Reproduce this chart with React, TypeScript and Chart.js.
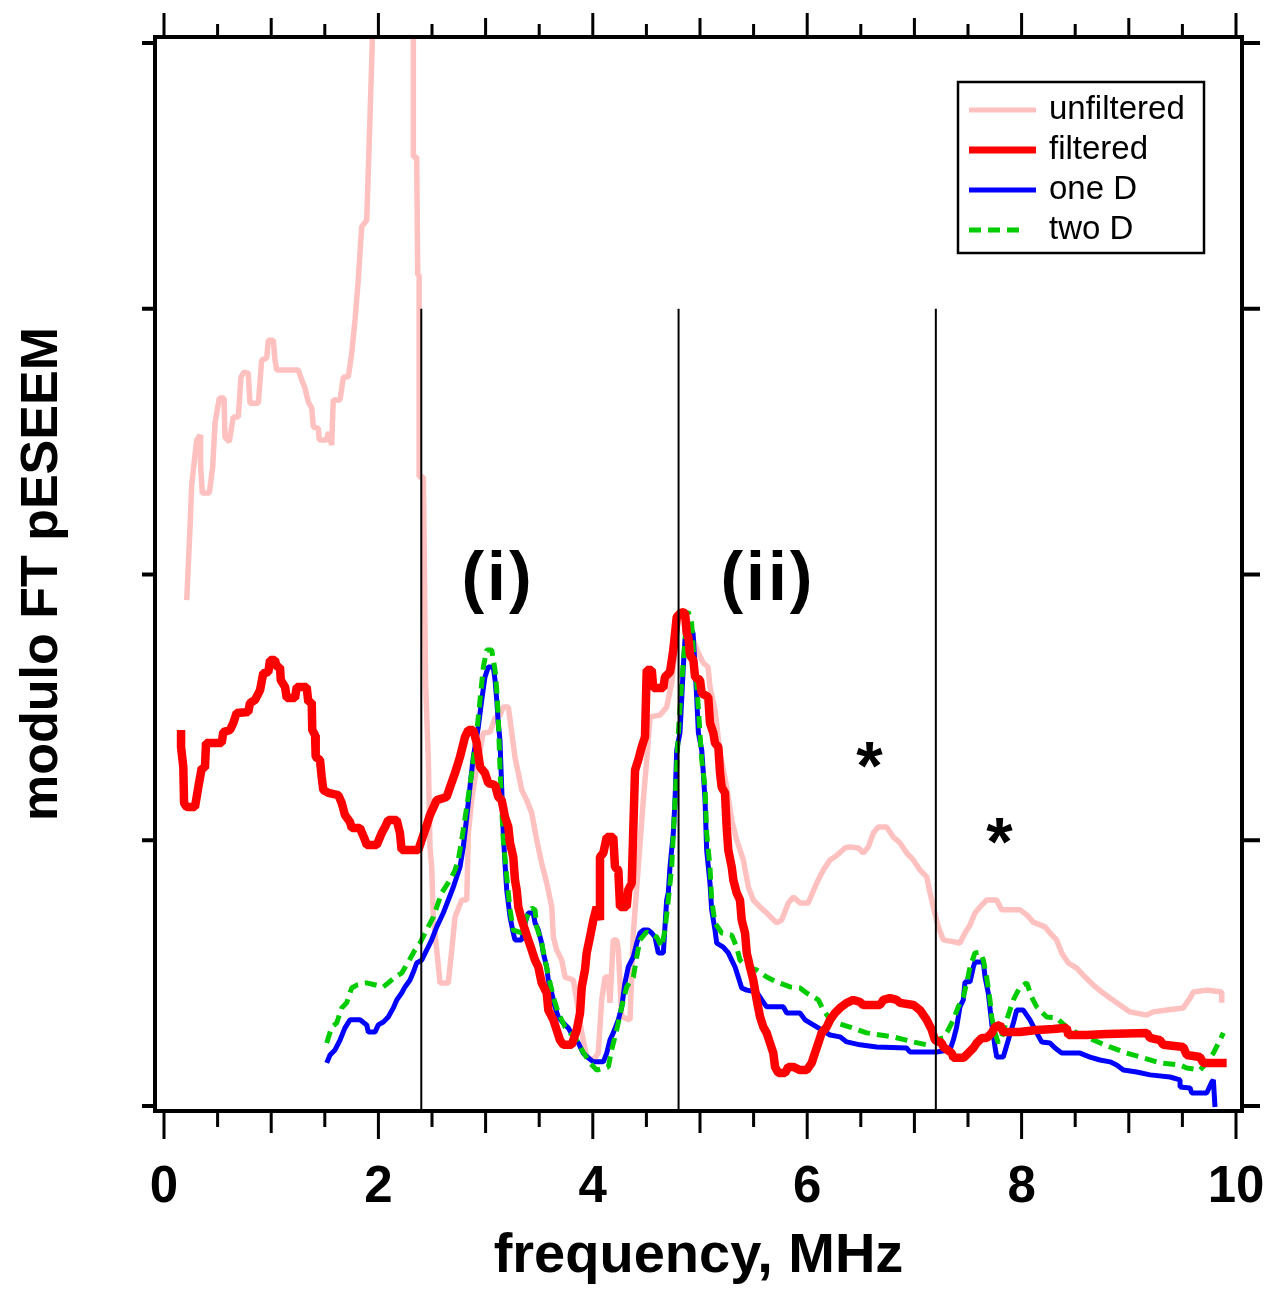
import React, { useEffect, useRef } from 'react';
import { Chart, registerables } from 'chart.js';

Chart.register(...registerables);

// ---------------- data (x = frequency in MHz, y = modulo FT pESEEM, arb. units) ----------------
const unfilteredPoints: [number, number][] = [
  [0.212, 1.904], [0.243, 2.179], [0.258, 2.337], [0.305, 2.506], [0.336, 2.525], [0.342, 2.405],
  [0.357, 2.307], [0.423, 2.307], [0.454, 2.405], [0.476, 2.570], [0.516, 2.664], [0.560, 2.664],
  [0.569, 2.517], [0.609, 2.499], [0.646, 2.593], [0.693, 2.593], [0.718, 2.743], [0.746, 2.762],
  [0.786, 2.758], [0.802, 2.645], [0.880, 2.645], [0.911, 2.807], [0.958, 2.815], [0.973, 2.882],
  [1.020, 2.882], [1.035, 2.807], [1.051, 2.770], [1.253, 2.770], [1.285, 2.732], [1.315, 2.702],
  [1.346, 2.649], [1.378, 2.627], [1.393, 2.555], [1.439, 2.551], [1.449, 2.506], [1.518, 2.506],
  [1.533, 2.536], [1.564, 2.487], [1.579, 2.657], [1.642, 2.657], [1.673, 2.743], [1.719, 2.743],
  [1.751, 2.833], [1.782, 2.960], [1.810, 3.097], [1.844, 3.308], [1.891, 3.334], [1.915, 3.635],
  [1.943, 4.004], [1.970, 4.600], [2.300, 4.600], [2.326, 4.004], [2.326, 3.571], [2.357, 3.571],
  [2.367, 3.127], [2.380, 3.127], [2.380, 2.367], [2.420, 2.367], [2.440, 1.592], [2.466, 1.302],
  [2.481, 0.975], [2.497, 0.899], [2.512, 0.711], [2.544, 0.587], [2.575, 0.463], [2.652, 0.463],
  [2.684, 0.587], [2.715, 0.711], [2.777, 0.775], [2.824, 0.775], [2.839, 1.027], [2.870, 1.151],
  [2.917, 1.276], [2.979, 1.404], [3.041, 1.407], [3.088, 1.460], [3.134, 1.471], [3.165, 1.501],
  [3.212, 1.501], [3.244, 1.404], [3.274, 1.313], [3.305, 1.253], [3.337, 1.189], [3.383, 1.151],
  [3.430, 1.103], [3.477, 1.001], [3.523, 0.914], [3.570, 0.839], [3.617, 0.749], [3.632, 0.636],
  [3.663, 0.587], [3.710, 0.549], [3.741, 0.485], [3.818, 0.474], [3.850, 0.399], [3.897, 0.275],
  [3.943, 0.184], [4.005, 0.173], [4.051, 0.199], [4.083, 0.399], [4.114, 0.485], [4.145, 0.485],
  [4.160, 0.388], [4.191, 0.625], [4.223, 0.625], [4.238, 0.587], [4.270, 0.335], [4.347, 0.324],
  [4.378, 0.651], [4.424, 0.899], [4.471, 1.151], [4.503, 1.302], [4.534, 1.464], [4.627, 1.471],
  [4.689, 1.501], [4.736, 1.592], [4.783, 1.780], [4.795, 1.829], [4.841, 1.848], [4.880, 1.840],
  [4.907, 1.791], [4.972, 1.716], [5.031, 1.667], [5.075, 1.652], [5.093, 1.577], [5.140, 1.490],
  [5.187, 1.328], [5.249, 1.200], [5.296, 1.076], [5.342, 1.001], [5.404, 0.926], [5.451, 0.824],
  [5.497, 0.775], [5.560, 0.749], [5.622, 0.726], [5.715, 0.689], [5.762, 0.700], [5.824, 0.764],
  [5.870, 0.786], [5.933, 0.764], [6.010, 0.764], [6.089, 0.839], [6.150, 0.888], [6.213, 0.926],
  [6.259, 0.937], [6.353, 0.971], [6.399, 0.975], [6.477, 0.971], [6.523, 0.952], [6.570, 0.975],
  [6.617, 1.027], [6.663, 1.050], [6.741, 1.050], [6.803, 1.012], [6.866, 0.990], [6.928, 0.952],
  [6.990, 0.926], [7.052, 0.888], [7.115, 0.862], [7.146, 0.802], [7.176, 0.749], [7.223, 0.674],
  [7.270, 0.625], [7.425, 0.613], [7.472, 0.651], [7.519, 0.681], [7.565, 0.726], [7.612, 0.749],
  [7.674, 0.775], [7.768, 0.775], [7.814, 0.738], [7.985, 0.738], [8.048, 0.719], [8.109, 0.692],
  [8.218, 0.674], [8.265, 0.651], [8.327, 0.625], [8.374, 0.576], [8.436, 0.538], [8.514, 0.519],
  [8.592, 0.485], [8.669, 0.455], [8.747, 0.429], [8.825, 0.406], [8.918, 0.380], [9.011, 0.354],
  [9.167, 0.342], [9.229, 0.354], [9.354, 0.361], [9.508, 0.369], [9.571, 0.406], [9.602, 0.429],
  [9.727, 0.436], [9.867, 0.429], [9.867, 0.388],
];

const filteredPoints: [number, number][] = [
  [0.159, 1.415], [0.159, 1.351], [0.180, 1.276], [0.187, 1.140], [0.212, 1.125], [0.289, 1.125],
  [0.320, 1.200], [0.352, 1.272], [0.382, 1.272], [0.392, 1.366], [0.538, 1.366], [0.553, 1.407],
  [0.616, 1.415], [0.646, 1.441], [0.678, 1.479], [0.786, 1.483], [0.802, 1.516], [0.849, 1.528],
  [0.896, 1.565], [0.926, 1.629], [0.973, 1.633], [0.989, 1.678], [1.035, 1.678], [1.051, 1.652],
  [1.082, 1.652], [1.089, 1.603], [1.129, 1.577], [1.145, 1.535], [1.222, 1.535], [1.238, 1.577],
  [1.331, 1.577], [1.346, 1.520], [1.378, 1.520], [1.383, 1.415], [1.409, 1.396], [1.415, 1.313],
  [1.455, 1.302], [1.471, 1.238], [1.486, 1.189], [1.533, 1.178], [1.626, 1.170], [1.658, 1.140],
  [1.688, 1.095], [1.735, 1.069], [1.751, 1.046], [1.828, 1.046], [1.875, 1.001], [1.891, 0.982],
  [1.984, 0.982], [2.031, 1.027], [2.062, 1.050], [2.092, 1.076], [2.171, 1.076], [2.201, 1.027],
  [2.217, 0.963], [2.372, 0.963], [2.404, 1.001], [2.451, 1.057], [2.481, 1.095], [2.544, 1.151],
  [2.637, 1.163], [2.668, 1.200], [2.715, 1.253], [2.761, 1.313], [2.808, 1.389], [2.839, 1.415],
  [2.885, 1.415], [2.917, 1.366], [2.948, 1.276], [2.994, 1.253], [3.025, 1.215], [3.088, 1.208],
  [3.118, 1.163], [3.150, 1.151], [3.181, 1.087], [3.212, 1.050], [3.228, 0.990], [3.258, 0.937],
  [3.274, 0.850], [3.290, 0.813], [3.305, 0.749], [3.337, 0.700], [3.368, 0.662], [3.398, 0.625],
  [3.430, 0.587], [3.461, 0.549], [3.492, 0.523], [3.523, 0.463], [3.570, 0.425], [3.585, 0.361],
  [3.632, 0.324], [3.663, 0.286], [3.694, 0.248], [3.725, 0.230], [3.803, 0.230], [3.850, 0.286],
  [3.881, 0.350], [3.897, 0.448], [3.927, 0.512], [3.943, 0.576], [3.974, 0.636], [4.005, 0.700],
  [4.036, 0.749], [4.067, 0.700], [4.067, 0.937], [4.098, 0.952], [4.130, 1.012], [4.191, 1.012],
  [4.207, 0.899], [4.238, 0.888], [4.254, 0.749], [4.316, 0.749], [4.331, 0.813], [4.363, 0.839],
  [4.394, 1.264], [4.424, 1.302], [4.456, 1.351], [4.487, 1.389], [4.503, 1.641], [4.550, 1.641],
  [4.564, 1.573], [4.658, 1.573], [4.673, 1.614], [4.720, 1.633], [4.751, 1.716], [4.783, 1.840],
  [4.829, 1.859], [4.860, 1.855], [4.876, 1.780], [4.891, 1.765], [4.907, 1.697], [4.938, 1.678],
  [4.954, 1.614], [5.000, 1.603], [5.016, 1.554], [5.077, 1.539], [5.093, 1.441], [5.124, 1.404],
  [5.140, 1.366], [5.171, 1.351], [5.187, 1.253], [5.202, 1.200], [5.233, 1.178], [5.249, 1.050],
  [5.264, 0.963], [5.296, 0.899], [5.311, 0.850], [5.342, 0.802], [5.373, 0.775], [5.389, 0.700],
  [5.420, 0.651], [5.436, 0.576], [5.466, 0.523], [5.497, 0.474], [5.529, 0.399], [5.560, 0.335],
  [5.591, 0.297], [5.622, 0.275], [5.653, 0.237], [5.684, 0.199], [5.700, 0.147], [5.731, 0.124],
  [5.793, 0.124], [5.824, 0.147], [5.870, 0.147], [5.933, 0.135], [5.995, 0.135], [6.042, 0.162],
  [6.072, 0.199], [6.104, 0.237], [6.135, 0.275], [6.182, 0.297], [6.213, 0.324], [6.259, 0.350],
  [6.306, 0.369], [6.369, 0.388], [6.430, 0.399], [6.493, 0.391], [6.523, 0.380], [6.679, 0.380],
  [6.710, 0.399], [6.772, 0.406], [6.835, 0.399], [6.866, 0.388], [6.990, 0.380], [7.052, 0.361],
  [7.115, 0.324], [7.162, 0.286], [7.192, 0.248], [7.255, 0.237], [7.270, 0.222], [7.349, 0.199],
  [7.364, 0.181], [7.457, 0.181], [7.503, 0.199], [7.550, 0.218], [7.581, 0.237], [7.628, 0.256],
  [7.674, 0.256], [7.721, 0.275], [7.752, 0.297], [7.799, 0.305], [7.829, 0.278], [7.985, 0.278],
  [8.141, 0.286], [8.296, 0.290], [8.421, 0.294], [8.436, 0.267], [8.607, 0.267], [8.794, 0.271],
  [9.167, 0.275], [9.198, 0.256], [9.291, 0.248], [9.322, 0.230], [9.508, 0.222], [9.540, 0.192],
  [9.664, 0.184], [9.695, 0.162], [9.913, 0.162],
];

const oneDPoints: [number, number][] = [
  [1.518, 0.162], [1.549, 0.192], [1.595, 0.211], [1.642, 0.248], [1.688, 0.294], [1.735, 0.324],
  [1.828, 0.324], [1.891, 0.305], [1.906, 0.278], [1.968, 0.278], [1.999, 0.305], [2.046, 0.316],
  [2.092, 0.335], [2.139, 0.369], [2.171, 0.399], [2.217, 0.425], [2.248, 0.448], [2.295, 0.474],
  [2.326, 0.504], [2.357, 0.538], [2.404, 0.549], [2.451, 0.587], [2.497, 0.625], [2.544, 0.674],
  [2.605, 0.726], [2.652, 0.775], [2.699, 0.824], [2.761, 0.899], [2.792, 0.975], [2.824, 1.087],
  [2.854, 1.200], [2.885, 1.313], [2.932, 1.426], [2.964, 1.528], [2.994, 1.614], [3.025, 1.652],
  [3.072, 1.652], [3.088, 1.603], [3.104, 1.528], [3.118, 1.441], [3.134, 1.377], [3.150, 1.200],
  [3.165, 1.027], [3.181, 0.914], [3.197, 0.813], [3.228, 0.711], [3.258, 0.651], [3.274, 0.625],
  [3.337, 0.625], [3.368, 0.689], [3.398, 0.726], [3.445, 0.726], [3.461, 0.689], [3.492, 0.662],
  [3.523, 0.613], [3.538, 0.576], [3.570, 0.523], [3.585, 0.474], [3.617, 0.425], [3.647, 0.373],
  [3.678, 0.335], [3.725, 0.312], [3.771, 0.294], [3.818, 0.260], [3.865, 0.237], [3.911, 0.199],
  [3.958, 0.181], [4.005, 0.166], [4.098, 0.166], [4.130, 0.199], [4.160, 0.248], [4.191, 0.275],
  [4.238, 0.324], [4.270, 0.373], [4.300, 0.463], [4.331, 0.523], [4.378, 0.561], [4.410, 0.613],
  [4.440, 0.651], [4.471, 0.662], [4.518, 0.662], [4.550, 0.651], [4.580, 0.636], [4.611, 0.576],
  [4.658, 0.576], [4.673, 0.674], [4.689, 0.775], [4.704, 0.802], [4.720, 0.899], [4.751, 1.027],
  [4.767, 1.151], [4.783, 1.340], [4.813, 1.404], [4.829, 1.528], [4.844, 1.652], [4.860, 1.754],
  [4.888, 1.810], [4.935, 1.780], [4.954, 1.652], [4.969, 1.539], [4.985, 1.404], [5.016, 1.340],
  [5.031, 1.253], [5.047, 1.151], [5.062, 0.963], [5.093, 0.839], [5.109, 0.738], [5.140, 0.662],
  [5.156, 0.613], [5.217, 0.598], [5.264, 0.576], [5.296, 0.549], [5.327, 0.523], [5.357, 0.485],
  [5.389, 0.444], [5.436, 0.436], [5.529, 0.429], [5.576, 0.399], [5.622, 0.373], [5.777, 0.373],
  [5.809, 0.350], [5.933, 0.350], [5.980, 0.324], [6.057, 0.305], [6.135, 0.286], [6.213, 0.267],
  [6.306, 0.260], [6.369, 0.241], [6.493, 0.230], [6.648, 0.222], [6.928, 0.218], [6.959, 0.203],
  [7.208, 0.203], [7.332, 0.211], [7.363, 0.248], [7.394, 0.297], [7.425, 0.373], [7.456, 0.399],
  [7.472, 0.467], [7.519, 0.467], [7.550, 0.523], [7.565, 0.542], [7.643, 0.542], [7.659, 0.485],
  [7.689, 0.425], [7.721, 0.312], [7.752, 0.222], [7.768, 0.184], [7.829, 0.184], [7.876, 0.248],
  [7.923, 0.312], [7.954, 0.361], [8.016, 0.361], [8.078, 0.324], [8.141, 0.275], [8.188, 0.241],
  [8.265, 0.237], [8.312, 0.218], [8.374, 0.199], [8.545, 0.199], [8.638, 0.184], [8.731, 0.173],
  [8.825, 0.166], [8.887, 0.154], [8.949, 0.135], [9.074, 0.128], [9.198, 0.117], [9.384, 0.109],
  [9.478, 0.098], [9.478, 0.071], [9.571, 0.068], [9.587, 0.049], [9.727, 0.049], [9.774, 0.090],
  [9.789, 0.098], [9.804, -0.004],
];

const twoDPoints: [number, number][] = [
  [1.518, 0.237], [1.564, 0.297], [1.611, 0.312], [1.658, 0.369], [1.704, 0.388], [1.751, 0.444],
  [1.798, 0.455], [1.891, 0.463], [2.046, 0.448], [2.092, 0.463], [2.155, 0.485], [2.217, 0.500],
  [2.279, 0.542], [2.341, 0.587], [2.388, 0.613], [2.435, 0.651], [2.512, 0.711], [2.590, 0.802],
  [2.668, 0.850], [2.715, 0.888], [2.745, 0.926], [2.777, 1.001], [2.824, 1.125], [2.870, 1.253],
  [2.917, 1.404], [2.948, 1.528], [2.979, 1.652], [3.010, 1.716], [3.057, 1.716], [3.088, 1.641],
  [3.104, 1.565], [3.118, 1.464], [3.134, 1.276], [3.150, 1.125], [3.165, 1.001], [3.197, 0.862],
  [3.228, 0.738], [3.258, 0.662], [3.337, 0.651], [3.383, 0.711], [3.430, 0.745], [3.461, 0.738],
  [3.477, 0.674], [3.523, 0.613], [3.554, 0.549], [3.601, 0.463], [3.632, 0.410], [3.678, 0.350],
  [3.741, 0.297], [3.787, 0.275], [3.850, 0.248], [3.897, 0.211], [3.974, 0.162], [4.036, 0.135],
  [4.145, 0.147], [4.176, 0.211], [4.223, 0.286], [4.270, 0.373], [4.316, 0.448], [4.378, 0.485],
  [4.410, 0.561], [4.440, 0.625], [4.503, 0.655], [4.596, 0.636], [4.643, 0.598], [4.673, 0.662],
  [4.704, 0.775], [4.736, 0.899], [4.767, 1.151], [4.798, 1.404], [4.829, 1.592], [4.860, 1.754],
  [4.876, 1.855], [4.891, 1.859], [4.922, 1.817], [4.938, 1.716], [4.969, 1.592], [5.000, 1.404],
  [5.016, 1.302], [5.047, 1.200], [5.062, 1.027], [5.093, 0.899], [5.109, 0.775], [5.140, 0.689],
  [5.202, 0.651], [5.296, 0.643], [5.342, 0.598], [5.373, 0.549], [5.436, 0.523], [5.529, 0.512],
  [5.622, 0.485], [5.715, 0.467], [5.840, 0.448], [5.933, 0.444], [5.995, 0.425], [6.104, 0.399],
  [6.150, 0.361], [6.197, 0.335], [6.275, 0.312], [6.399, 0.297], [6.555, 0.275], [6.803, 0.260],
  [6.990, 0.241], [7.115, 0.230], [7.192, 0.248], [7.270, 0.256], [7.316, 0.286], [7.363, 0.324],
  [7.409, 0.373], [7.456, 0.410], [7.488, 0.463], [7.519, 0.523], [7.565, 0.576], [7.612, 0.579],
  [7.643, 0.549], [7.674, 0.485], [7.705, 0.399], [7.721, 0.335], [7.752, 0.275], [7.783, 0.237],
  [7.814, 0.260], [7.861, 0.324], [7.923, 0.399], [7.985, 0.448], [8.048, 0.463], [8.094, 0.410],
  [8.141, 0.373], [8.234, 0.335], [8.327, 0.331], [8.421, 0.297], [8.514, 0.275], [8.669, 0.248],
  [8.825, 0.222], [8.980, 0.199], [9.135, 0.181], [9.291, 0.162], [9.478, 0.154], [9.540, 0.143],
  [9.664, 0.135], [9.727, 0.162], [9.789, 0.199], [9.851, 0.248], [9.882, 0.275],
];

const seriesNames = ['unfiltered', 'filtered', 'one D', 'two D'];
const seriesColors = ['#ffc0c0', '#ff0000', '#0000ff', '#00cc00'];
const seriesWidths = [5.5, 8.5, 5, 5];

const dividerX = [2.4, 4.8, 7.2];
const dividerTop = 3;

const xLabelTicks = [0, 2, 4, 6, 8, 10];
const xMarkTicks = [0, 0.5, 1, 1.5, 2, 2.5, 3, 3.5, 4, 4.5, 5, 5.5, 6, 6.5, 7, 7.5, 8, 8.5, 9, 9.5, 10];
const yMarkTicks = [0, 1, 2, 3, 4];

const annotationText = ['(i)', '(ii)', '*', '*'];
const annotationX = [3.116, 5.634, 6.595, 7.808];
const annotationY = [1.904, 1.904, 1.193, 0.907];

const X_MIN = -0.084;
const X_MAX = 10.056;
const Y_MIN = -0.019;
const Y_MAX = 4.023;

const FONT = "'Liberation Sans', Arial, Helvetica, sans-serif";

// ---------------- plugins ----------------
const framePlugin = {
  id: 'frameTicksLegend',
  afterDraw(chart: any) {
    const { ctx, chartArea: a, scales } = chart;
    const xs = scales.x;
    const ys = scales.y;
    ctx.save();

    // frame
    ctx.strokeStyle = '#000';
    ctx.lineWidth = 4;
    ctx.setLineDash([]);
    ctx.strokeRect(a.left, a.top, a.right - a.left, a.bottom - a.top);

    // x tick marks (bottom and top, outward)
    ctx.lineWidth = 3;
    for (const v of xMarkTicks) {
      const px = xs.getPixelForValue(v);
      const major = v % 2 === 0;
      const odd = !major && Number.isInteger(v);
      const lb = major ? 28 : odd ? 22 : 16;
      const lt = major ? 24 : odd ? 19 : 13;
      ctx.beginPath();
      ctx.moveTo(px, a.bottom);
      ctx.lineTo(px, a.bottom + lb);
      ctx.moveTo(px, a.top);
      ctx.lineTo(px, a.top - lt);
      ctx.stroke();
    }
    // y tick marks (left and right, outward)
    ctx.lineWidth = 4;
    for (const v of yMarkTicks) {
      const py = ys.getPixelForValue(v);
      ctx.beginPath();
      ctx.moveTo(a.left, py);
      ctx.lineTo(a.left - 13, py);
      ctx.moveTo(a.right, py);
      ctx.lineTo(a.right + 18, py);
      ctx.stroke();
    }

    // annotations
    ctx.fillStyle = '#000';
    ctx.font = `bold 68px ${FONT}`;
    ctx.textAlign = 'center';
    ctx.textBaseline = 'alphabetic';
    try { (ctx as any).letterSpacing = '3px'; } catch (e) { /* ignore */ }
    annotationText.forEach((t, i) => {
      ctx.fillText(t, xs.getPixelForValue(annotationX[i]), ys.getPixelForValue(annotationY[i]));
    });
    try { (ctx as any).letterSpacing = '0px'; } catch (e) { /* ignore */ }

    // legend
    const boxW = 246;
    const boxH = 171;
    const bx = a.right - 38 - boxW;
    const by = a.top + 45;
    ctx.fillStyle = '#fff';
    ctx.fillRect(bx, by, boxW, boxH);
    ctx.strokeStyle = '#000';
    ctx.lineWidth = 2.5;
    ctx.strokeRect(bx, by, boxW, boxH);
    const items = chart.data.datasets
      .filter((d: any) => seriesNames.includes(d.label))
      .sort((p: any, q: any) => seriesNames.indexOf(p.label) - seriesNames.indexOf(q.label));
    items.forEach((d: any, i: number) => {
      const y = by + 28 + i * 40;
      ctx.beginPath();
      ctx.strokeStyle = d.borderColor;
      ctx.lineWidth = d.label === 'filtered' ? 7 : 5;
      ctx.setLineDash(d.borderDash || []);
      ctx.moveTo(bx + 11, y);
      ctx.lineTo(bx + (d.borderDash ? 64 : 78), y);
      ctx.stroke();
      ctx.setLineDash([]);
      ctx.fillStyle = '#000';
      ctx.font = `33px ${FONT}`;
      ctx.textAlign = 'left';
      ctx.textBaseline = 'middle';
      ctx.fillText(d.label, bx + 91, y);
    });
    ctx.restore();
  },
};

export default function App() {
  const canvasRef = useRef<HTMLCanvasElement | null>(null);

  useEffect(() => {
    if (!canvasRef.current) return;
    const allSeries = [unfilteredPoints, filteredPoints, oneDPoints, twoDPoints];
    const drawOrder = [4, 1, 3, 2];
    const seriesDatasets = allSeries.map((pts, i) => ({
      label: seriesNames[i],
      data: pts.map(([x, y]) => ({ x, y })),
      borderColor: seriesColors[i],
      backgroundColor: seriesColors[i],
      borderWidth: seriesWidths[i],
      borderDash: seriesNames[i] === 'two D' ? [12, 7] : undefined,
      borderJoinStyle: 'bevel' as const,
      borderCapStyle: 'butt' as const,
      pointRadius: 0,
      showLine: true,
      tension: 0,
      fill: false,
      order: drawOrder[i],
      clip: 0,
    }));
    const dividerDatasets = dividerX.map((xv) => ({
      label: 'divider',
      data: [
        { x: xv, y: dividerTop },
        { x: xv, y: Y_MIN },
      ],
      borderColor: '#000',
      borderWidth: 2,
      pointRadius: 0,
      showLine: true,
      fill: false,
      order: 0,
    }));

    const chart = new Chart(canvasRef.current, {
      type: 'scatter',
      data: { datasets: [...seriesDatasets, ...dividerDatasets] as any },
      options: {
        animation: false,
        responsive: false,
        devicePixelRatio: 1,
        events: [],
        layout: { padding: { top: 37, right: 26, left: 0, bottom: 0 } },
        plugins: {
          legend: { display: false },
          tooltip: { enabled: false },
          title: { display: false },
        },
        scales: {
          x: {
            type: 'linear',
            position: 'bottom',
            min: X_MIN,
            max: X_MAX,
            grid: { display: false, drawTicks: false },
            border: { display: false },
            afterBuildTicks: (scale: any) => {
              scale.ticks = xLabelTicks.map((v) => ({ value: v }));
            },
            afterFit: (scale: any) => {
              scale.height = 180;
              scale.paddingLeft = 0;
              scale.paddingRight = 0;
            },
            ticks: {
              autoSkip: false,
              maxRotation: 0,
              padding: 46,
              color: '#000',
              font: { family: FONT, size: 51, weight: 'bold', lineHeight: 1.2 },
              callback: (v: any) => String(v),
            },
            title: {
              display: true,
              text: 'frequency, MHz',
              color: '#000',
              font: { family: FONT, size: 56, weight: 'bold', lineHeight: 1.2 },
              padding: { top: 0, bottom: 1 },
            },
          },
          y: {
            type: 'linear',
            position: 'left',
            min: Y_MIN,
            max: Y_MAX,
            grid: { display: false, drawTicks: false },
            border: { display: false },
            ticks: { display: false },
            afterFit: (scale: any) => {
              scale.width = 155;
              scale.paddingTop = 0;
              scale.paddingBottom = 0;
            },
            title: {
              display: true,
              text: 'modulo FT pESEEM',
              color: '#000',
              font: { family: FONT, size: 52, weight: 'bold', lineHeight: 1.2 },
              padding: { top: 11, bottom: 0 },
            },
          },
        },
      } as any,
      plugins: [framePlugin],
    });
    return () => chart.destroy();
  }, []);

  return (
    <div style={{ position: 'absolute', left: 0, top: 0, width: 1268, height: 1291, background: '#fff' }}>
      <canvas ref={canvasRef} width={1268} height={1291} style={{ display: 'block' }} />
    </div>
  );
}
